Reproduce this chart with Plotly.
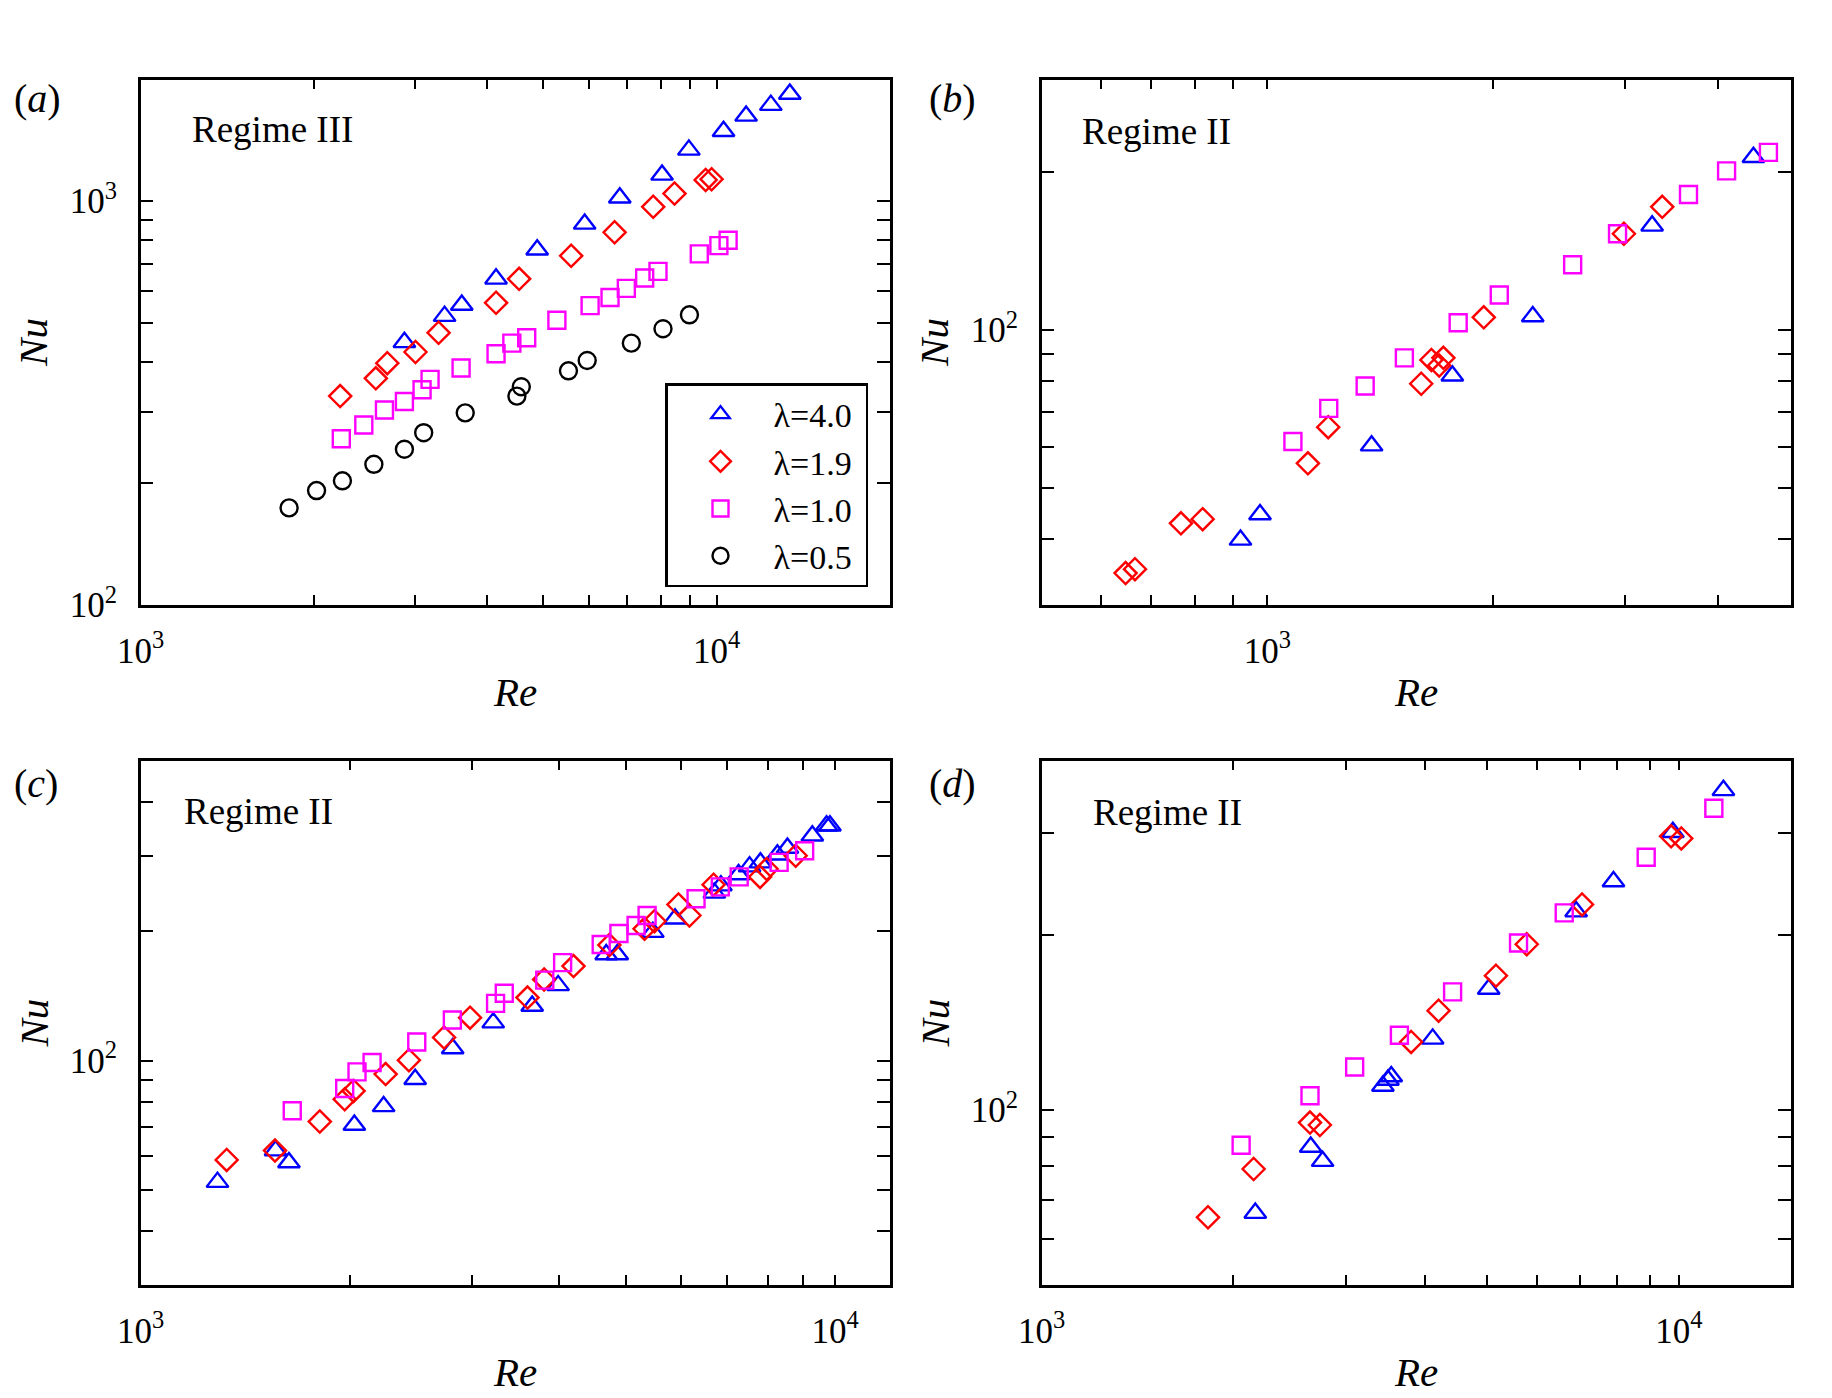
import math
import plotly.graph_objects as go

# ---------------- data (Re, Nu) ----------------
# panel (a)  Regime III
a_re_40 = [2870, 3370, 3610, 4140, 4880, 5900, 6790, 8040, 8950, 10280, 11250, 12420, 13400]
a_nu_40 = [447, 519, 553, 642, 758, 878, 1019, 1161, 1339, 1489, 1625, 1728, 1842]
a_re_19 = [2220, 2560, 2680, 3000, 3290, 4140, 4540, 5590, 6650, 7760, 8450, 9570, 9800]
a_nu_19 = [329, 364, 397, 423, 472, 560, 642, 732, 837, 968, 1044, 1128, 1133]
a_re_10 = [2230, 2440, 2650, 2870, 3080, 3180, 3600, 4140, 4410, 4680, 5280, 6030, 6530,
           6970, 7500, 7910, 9330, 10090, 10470]
a_nu_10 = [258, 279, 304, 319, 341, 362, 386, 419, 445, 459, 507, 551, 577, 608, 645, 670,
           740, 776, 800]
a_re_05 = [1810, 2020, 2240, 2540, 2870, 3100, 3660, 4500, 4580, 5530, 5960, 7110, 8070, 8970]
a_nu_05 = [174, 192, 203, 223, 243, 267, 299, 329, 347, 380, 403, 445, 483, 523]

# panel (b)  Regime II
b_re_40 = [921, 978, 1378, 1766, 2261, 3263, 4455]
b_nu_40 = [39.9, 44.6, 60.3, 81.9, 106.2, 158, 213.4]
b_re_19 = [647, 666, 767, 820, 1133, 1206, 1605, 1656, 1696, 1718, 1945, 2992, 3366]
b_nu_19 = [34.5, 35.1, 42.9, 43.7, 55.8, 65.4, 79.1, 87.8, 85.7, 88.6, 105.8, 152.6, 171.7]
b_re_10 = [1082, 1208, 1351, 1524, 1798, 2040, 2556, 2934, 3649, 4102, 4665]
b_nu_10 = [61.4, 71.0, 78.3, 88.6, 103.3, 116.7, 133.2, 152.6, 181.3, 201, 218]

# panel (c)  Regime II
c_re_40 = [1290, 1564, 1635, 2031, 2238, 2485, 2814, 3219, 3663, 3992, 4682, 4857, 5465, 5883,
           6701, 6849, 7262, 7532, 7808, 8261, 8540, 9275, 9723, 9833]
c_nu_40 = [52.1, 61.7, 57.9, 70.8, 78.2, 90.5, 106.7, 122.6, 134.0, 149.7, 176.7, 176.7, 199.2,
           214, 245.9, 255.7, 271.3, 283.1, 289.2, 301.8, 312.8, 334.2, 352.5, 352.5]
c_re_19 = [1330, 1561, 1811, 1967, 2026, 2253, 2434, 2735, 2981, 3606, 3811, 4201, 4732, 5317,
           5495, 5950, 6171, 6685, 7800, 7972, 8777]
c_nu_19 = [58.7, 61.7, 72.1, 81.3, 85.0, 93.0, 100.2, 113.2, 125.9, 140.2, 154.6, 166, 185.9,
           202.8, 211.2, 231, 217.8, 257, 267.9, 279.6, 300.2]
c_re_10 = [1653, 1967, 2049, 2154, 2498, 2811, 3244, 3339, 3819, 4052, 4605, 4884, 5170, 5362,
           6307, 6836, 7278, 8308, 9042]
c_nu_10 = [76.4, 86.1, 94.1, 99.0, 110.5, 124.3, 135.9, 143.5, 154, 169.1, 186.4, 197.8, 206.4,
           217.8, 238.2, 254, 267.9, 289.7, 308.3]

# panel (d)  Regime II
d_re_40 = [2164, 2644, 2760, 3432, 3495, 3537, 4108, 5031, 6900, 7897, 9788, 11750]
d_nu_40 = [66.5, 86.4, 81.7, 110.1, 112.7, 114.3, 132.7, 161.7, 219.8, 247.6, 301.1, 355.5]
d_re_19 = [1824, 2151, 2637, 2733, 3800, 4197, 5164, 5772, 7049, 9725, 10090]
d_nu_19 = [65.4, 79.2, 95.2, 94.3, 131.1, 148.4, 170.5, 193.1, 226.1, 296.2, 293.8]
d_re_10 = [2056, 2637, 3099, 3643, 4415, 5603, 6609, 8888, 11350]
d_nu_10 = [87.0, 105.9, 118.7, 134.6, 159.9, 194.1, 218.7, 272.7, 331.1]

series_names = ["λ=4.0\u00a0", "λ=1.9\u00a0", "λ=1.0\u00a0", "λ=0.5\u00a0"]
series_colors = ["#0000FF", "#FF0000", "#FF00FF", "#000000"]
series_symbols = ["triangle-up-open", "diamond-open", "square-open", "circle-open"]
series_sizes = [19, 17, 17, 17]

panel_labels = ["(<i>a</i>)", "(<i>b</i>)", "(<i>c</i>)", "(<i>d</i>)"]
regime_labels = ["Regime III", "Regime II", "Regime II", "Regime II"]

# axis ranges (data units)
x_ranges = [(1000, 20000), (500, 5000), (1000, 12000), (1000, 15000)]
y_ranges = [(100, 2000), (30, 300), (30, 500), (50, 400)]
x_major = [[1000, 10000], [1000], [1000, 10000], [1000, 10000]]
x_minor = [
    [2000, 3000, 4000, 5000, 6000, 7000, 8000, 9000],
    [600, 700, 800, 900, 2000, 3000, 4000],
    [2000, 3000, 4000, 5000, 6000, 7000, 8000, 9000],
    [2000, 3000, 4000, 5000, 6000, 7000, 8000, 9000],
]
y_major = [[100, 1000], [100], [100], [100]]
y_minor = [
    [200, 300, 400, 500, 600, 700, 800, 900],
    [40, 50, 60, 70, 80, 90, 200],
    [40, 50, 60, 70, 80, 90, 200, 300, 400],
    [60, 70, 80, 90, 200, 300],
]
major_text = {100: "10<sup>2</sup>", 1000: "10<sup>3</sup>", 10000: "10<sup>4</sup>"}

panels = [
    [(a_re_40, a_nu_40), (a_re_19, a_nu_19), (a_re_10, a_nu_10), (a_re_05, a_nu_05)],
    [(b_re_40, b_nu_40), (b_re_19, b_nu_19), (b_re_10, b_nu_10)],
    [(c_re_40, c_nu_40), (c_re_19, c_nu_19), (c_re_10, c_nu_10)],
    [(d_re_40, d_nu_40), (d_re_19, d_nu_19), (d_re_10, d_nu_10)],
]

# ---------------- layout geometry (pixels) ----------------
W, H = 1832, 1398
col_x = [(140.7, 890.0), (1041.7, 1791.0)]
row_y = [(79.5, 605.0), (760.6, 1285.0)]

FONT = "Liberation Serif"
fig = go.Figure()

for p, data in enumerate(panels):
    r, c = divmod(p, 2)
    suffix = "" if p == 0 else str(p + 1)
    for s, (xs, ys) in enumerate(data):
        fig.add_trace(go.Scatter(
            x=xs, y=ys, mode="markers",
            name=series_names[s],
            showlegend=(p == 0),
            marker=dict(symbol=series_symbols[s], size=series_sizes[s],
                        color=series_colors[s],
                        line=dict(width=2.4, color=series_colors[s])),
            xaxis="x" + suffix, yaxis="y" + suffix,
        ))

    x0, x1 = col_x[c]
    y0, y1 = row_y[r]
    xdom = [x0 / W, x1 / W]
    ydom = [1 - y1 / H, 1 - y0 / H]
    xr = x_ranges[p]
    yr = y_ranges[p]
    common = dict(
        type="log", showline=True, linecolor="black", linewidth=2.5, mirror="ticks",
        ticks="inside", tickcolor="black", tickwidth=2, showgrid=False, zeroline=False,
        automargin=False, tickmode="array",
        tickfont=dict(family=FONT, size=35, color="black"),
    )
    fig.update_layout(**{
        "xaxis" + suffix: dict(
            common, domain=xdom, anchor="y" + suffix,
            range=[math.log10(xr[0]) - 1e-6, math.log10(xr[1])],
            tickvals=x_major[p],
            ticktext=[major_text[v] for v in x_major[p]],
            ticklen=10, ticklabelstandoff=13,
            minor=dict(tickmode="array", tickvals=x_minor[p], ticks="inside",
                       ticklen=10, tickwidth=2, tickcolor="black", showgrid=False),
        ),
        "yaxis" + suffix: dict(
            common, domain=ydom, anchor="x" + suffix,
            range=[math.log10(yr[0]) - 1e-6, math.log10(yr[1])],
            tickvals=y_major[p],
            ticktext=[major_text[v] for v in y_major[p]],
            ticklen=13, ticklabelstandoff=14,
            minor=dict(tickmode="array", tickvals=y_minor[p], ticks="inside",
                       ticklen=13, tickwidth=2, tickcolor="black", showgrid=False),
        ),
    })

# ---------------- annotations ----------------
ann = []
label_pos = [(12, 99), (927, 99), (12, 783), (927, 783)]
regime_pos = [(190, 130), (1080, 131), (182, 811), (1091, 812)]
for p in range(4):
    r, c = divmod(p, 2)
    lx, ly = label_pos[p]
    ann.append(dict(text=panel_labels[p], x=lx / W, y=1 - ly / H, xref="paper", yref="paper",
                    xanchor="left", yanchor="middle", showarrow=False,
                    font=dict(family=FONT, size=40, color="black")))
    gx, gy = regime_pos[p]
    ann.append(dict(text=regime_labels[p], x=gx / W, y=1 - gy / H, xref="paper", yref="paper",
                    xanchor="left", yanchor="middle", showarrow=False,
                    font=dict(family=FONT, size=37, color="black")))
    x0, x1 = col_x[c]
    y0, y1 = row_y[r]
    ann.append(dict(text="<i>Re</i>", x=(x0 + x1) / 2 / W, y=1 - (y1 + 87) / H,
                    xref="paper", yref="paper", xanchor="center", yanchor="middle",
                    showarrow=False, font=dict(family=FONT, size=41, color="black")))
    ann.append(dict(text="<i>Nu</i>", x=(x0 - 107) / W, y=1 - (y0 + y1) / 2 / H,
                    xref="paper", yref="paper", xanchor="center", yanchor="middle",
                    textangle=-90, showarrow=False,
                    font=dict(family=FONT, size=41, color="black")))

fig.update_layout(
    width=W, height=H,
    margin=dict(l=0, r=0, t=0, b=0),
    paper_bgcolor="white", plot_bgcolor="white",
    annotations=ann,
    legend=dict(
        x=665 / W, y=1 - 383 / H, xanchor="left", yanchor="top",
        bgcolor="white", bordercolor="black", borderwidth=2.5,
        font=dict(family=FONT, size=34, color="black"),
        itemwidth=96, tracegroupgap=0,
    ),
)

fig.write_html("out.html")
